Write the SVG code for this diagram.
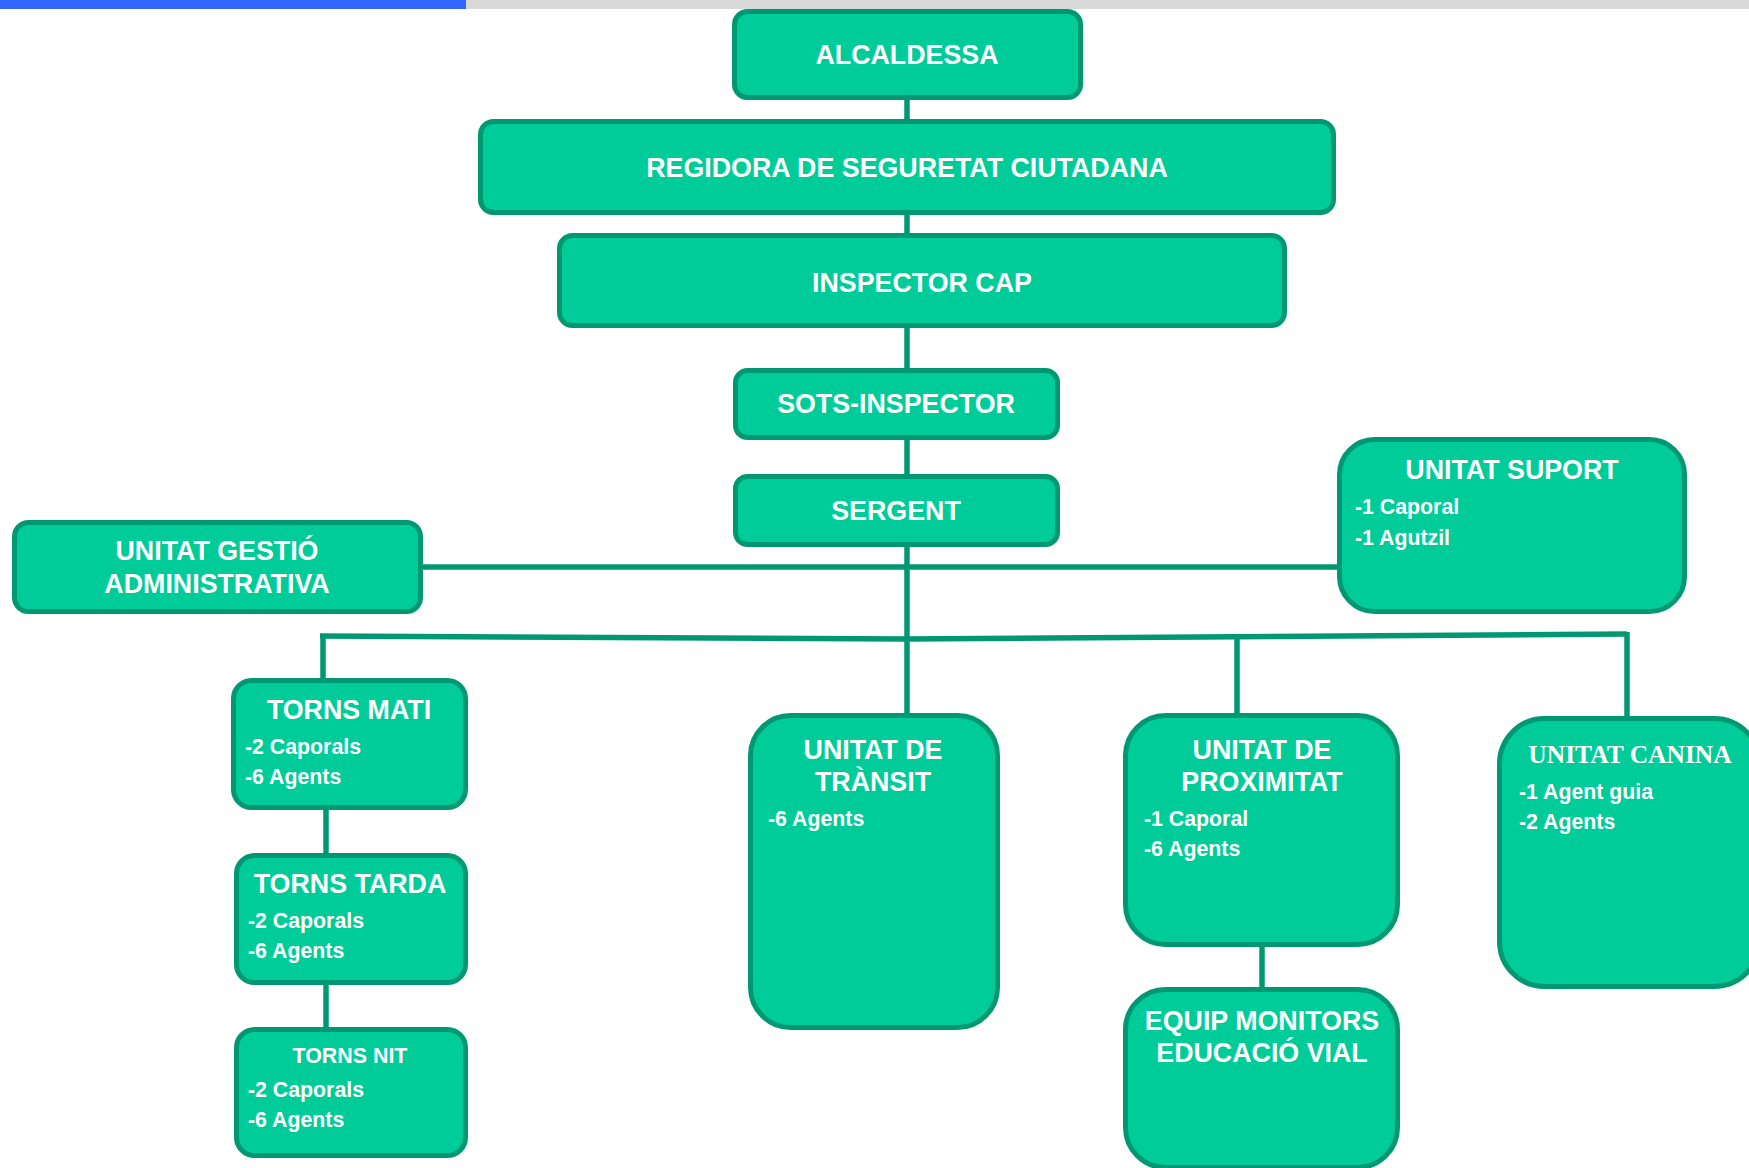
<svg xmlns="http://www.w3.org/2000/svg" width="1749" height="1168" viewBox="0 0 1749 1168">
<style>
.box{fill:#00CC99;stroke:#009873;stroke-width:5}
.ln{fill:none;stroke:#009873;stroke-width:5.5}
.t{font-family:"Liberation Sans",Arial,sans-serif;font-weight:bold;font-size:26.8px;fill:#FFFFFF;text-anchor:middle}
.s{font-family:"Liberation Sans",Arial,sans-serif;font-weight:bold;font-size:21.3px;fill:#FFFFFF}
.serif{font-family:"Liberation Serif","Times New Roman",serif;font-weight:bold;font-size:25.5px;fill:#FFFFFF;text-anchor:middle}
</style>
<rect x="0" y="0" width="1749" height="1168" fill="#FFFFFF"/>
<rect x="0" y="0" width="466" height="9" fill="#3366FF"/>
<rect x="466" y="0" width="1283" height="9" fill="#D9D9D9"/>
<g id="connectors">
<line class="ln" x1="907" y1="98" x2="907" y2="122"/>
<line class="ln" x1="907" y1="212" x2="907" y2="236"/>
<line class="ln" x1="907" y1="325" x2="907" y2="371"/>
<line class="ln" x1="907" y1="437" x2="907" y2="477"/>
<line class="ln" x1="907" y1="544" x2="907" y2="716"/>
<line class="ln" x1="420" y1="567" x2="1340" y2="567"/>
<polyline class="ln" points="320,636 907,639 1627,634"/>
<line class="ln" x1="323" y1="634" x2="323" y2="681"/>
<line class="ln" x1="1237" y1="636" x2="1237" y2="716"/>
<line class="ln" x1="1627" y1="632" x2="1627" y2="719"/>
<line class="ln" x1="326" y1="807" x2="326" y2="856"/>
<line class="ln" x1="326" y1="982" x2="326" y2="1030"/>
<line class="ln" x1="1262" y1="944" x2="1262" y2="990"/>
</g>
<g id="alcaldessa">
<rect class="box" x="734.5" y="11.5" width="346" height="86" rx="13"/>
<text class="t" x="907" y="64">ALCALDESSA</text>
</g>
<g id="regidora">
<rect class="box" x="480.5" y="121.5" width="853" height="91" rx="13"/>
<text class="t" x="907" y="177">REGIDORA DE SEGURETAT CIUTADANA</text>
</g>
<g id="inspector">
<rect class="box" x="559.5" y="235.5" width="725" height="90" rx="13"/>
<text class="t" x="922" y="292">INSPECTOR CAP</text>
</g>
<g id="sots">
<rect class="box" x="735.5" y="370.5" width="322" height="67" rx="12"/>
<text class="t" x="896" y="413">SOTS-INSPECTOR</text>
</g>
<g id="sergent">
<rect class="box" x="735.5" y="476.5" width="322" height="68" rx="12"/>
<text class="t" x="896" y="520">SERGENT</text>
</g>
<g id="gestio">
<rect class="box" x="14.5" y="522.5" width="406" height="89" rx="14"/>
<text class="t" x="217" y="560">UNITAT GESTIÓ</text>
<text class="t" x="217" y="593">ADMINISTRATIVA</text>
</g>
<g id="suport">
<rect class="box" x="1339.5" y="439.5" width="345" height="172" rx="35"/>
<text class="t" x="1512" y="479">UNITAT SUPORT</text>
<text class="s" x="1355" y="514">-1 Caporal</text>
<text class="s" x="1355" y="545">-1 Agutzil</text>
</g>
<g id="mati">
<rect class="box" x="233.5" y="680.5" width="232" height="127" rx="18"/>
<text class="t" x="349" y="719">TORNS MATI</text>
<text class="s" x="245" y="754">-2 Caporals</text>
<text class="s" x="245" y="784">-6 Agents</text>
</g>
<g id="tarda">
<rect class="box" x="236.5" y="855.5" width="229" height="127" rx="18"/>
<text class="t" x="350" y="893">TORNS TARDA</text>
<text class="s" x="248" y="928">-2 Caporals</text>
<text class="s" x="248" y="958">-6 Agents</text>
</g>
<g id="nit">
<rect class="box" x="236.5" y="1029.5" width="229" height="126" rx="18"/>
<text class="t" x="350" y="1063" style="font-size:21.4px">TORNS NIT</text>
<text class="s" x="248" y="1097">-2 Caporals</text>
<text class="s" x="248" y="1127">-6 Agents</text>
</g>
<g id="transit">
<rect class="box" x="750.5" y="715.5" width="247" height="312" rx="40"/>
<text class="t" x="873" y="759">UNITAT DE</text>
<text class="t" x="873" y="791">TRÀNSIT</text>
<text class="s" x="768" y="826">-6 Agents</text>
</g>
<g id="proximitat">
<rect class="box" x="1125.5" y="715.5" width="272" height="229" rx="40"/>
<text class="t" x="1262" y="759">UNITAT DE</text>
<text class="t" x="1262" y="791">PROXIMITAT</text>
<text class="s" x="1144" y="826">-1 Caporal</text>
<text class="s" x="1144" y="856">-6 Agents</text>
</g>
<g id="equip">
<rect class="box" x="1125.5" y="989.5" width="272" height="178" rx="40"/>
<text class="t" x="1262" y="1030">EQUIP MONITORS</text>
<text class="t" x="1262" y="1062">EDUCACIÓ VIAL</text>
</g>
<g id="canina">
<rect class="box" x="1499.5" y="718.5" width="260" height="268" rx="45"/>
<text class="serif" x="1630" y="763">UNITAT CANINA</text>
<text class="s" x="1519" y="799">-1 Agent guia</text>
<text class="s" x="1519" y="829">-2 Agents</text>
</g>
</svg>
